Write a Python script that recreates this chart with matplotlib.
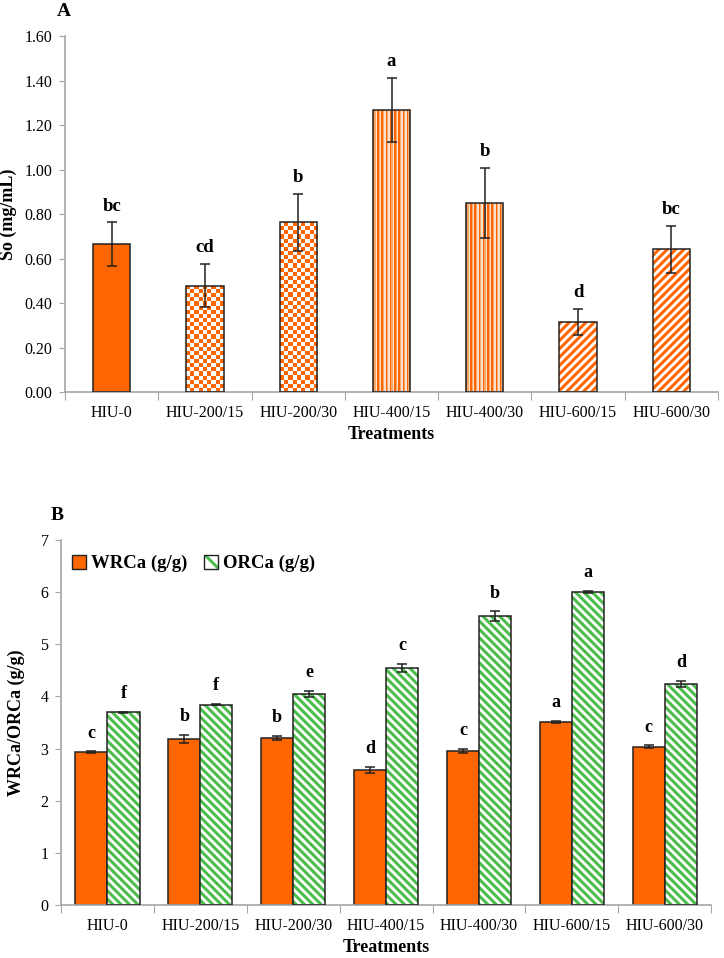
import matplotlib
matplotlib.use('Agg')
import matplotlib.pyplot as plt
import numpy as np
from matplotlib.colors import ListedColormap
from matplotlib.patches import Patch

plt.rcParams['font.family'] = ['Liberation Serif', 'DejaVu Serif']
plt.rcParams['hatch.linewidth'] = 2.2

### Data
treatments = ['HIU-0', 'HIU-200/15', 'HIU-200/30', 'HIU-400/15',
              'HIU-400/30', 'HIU-600/15', 'HIU-600/30']

# Panel A: So (mg/mL)
so_mean = [0.665, 0.478, 0.762, 1.267, 0.848, 0.316, 0.641]
so_err = [0.097, 0.097, 0.130, 0.145, 0.158, 0.059, 0.107]
so_letters = ['bc', 'cd', 'b', 'a', 'b', 'd', 'bc']
so_fill = ['solid', 'check', 'check', 'vstripe', 'vstripe', 'diag', 'diag']

# Panel B: WRCa / ORCa (g/g)
wrca = [2.93, 3.18, 3.20, 2.59, 2.96, 3.51, 3.04]
wrca_err = [0.015, 0.08, 0.04, 0.06, 0.04, 0.02, 0.02]
wrca_letters = ['c', 'b', 'b', 'd', 'c', 'a', 'c']
orca = [3.70, 3.84, 4.04, 4.55, 5.54, 6.01, 4.24]
orca_err = [0.01, 0.01, 0.06, 0.08, 0.09, 0.02, 0.06]
orca_letters = ['f', 'f', 'e', 'c', 'b', 'a', 'd']

### Styles
ORANGE = '#FF6600'
GREEN = '#4DBE4D'
GREY = '#A6A6A6'
EDGE = '#222222'
DIAG_A = '////'
DIAG_B = '\\\\\\\\'


def style_axes(ax, ymax, yticks, fmt):
    ax.set_xlim(-0.5, len(treatments) - 0.5)
    ax.set_ylim(0, ymax)
    ax.set_yticks(yticks)
    ax.set_yticklabels([fmt % v for v in yticks], fontsize=11.5)
    ax.set_xticks(np.arange(-0.5, len(treatments), 1.0))
    ax.set_xticklabels([])
    ax.set_xticks(np.arange(len(treatments)), minor=True)
    ax.set_xticklabels(treatments, minor=True, fontsize=11.5)
    ax.tick_params(axis='x', which='major', length=6, color=GREY, direction='out')
    ax.tick_params(axis='x', which='minor', length=0, pad=9)
    ax.tick_params(axis='y', length=4, color=GREY, direction='out', pad=5)
    for s in ['top', 'right']:
        ax.spines[s].set_visible(False)
    for s in ['left', 'bottom']:
        ax.spines[s].set_color(GREY)
        ax.spines[s].set_linewidth(1.2)
    ax.set_xlabel('Treatments', fontsize=13, fontweight='bold', labelpad=4)


fig = plt.figure(figsize=(7.24, 9.58), dpi=100)

### Panel A
axA = fig.add_axes([0.0898, 0.5908, 0.902, 0.3716])
x = np.arange(len(treatments))
w = 0.4
px_per_unit = 0.3716 * 9.58 * 100 / 1.6

bars = axA.bar(x, so_mean, w, color='white', edgecolor='none', zorder=2)
for b, style in zip(bars, so_fill):
    x0, y0, bw, bh = b.get_x(), b.get_y(), b.get_width(), b.get_height()
    if style == 'solid':
        b.set_facecolor(ORANGE)
    elif style == 'check':
        ncol = 9
        nrow = max(1, int(round(bh * px_per_unit / 4.1)))
        grid = np.add.outer(np.arange(nrow), np.arange(ncol)) % 2
        im = axA.imshow(grid, extent=(x0, x0 + bw, y0, y0 + bh),
                        cmap=ListedColormap(['white', ORANGE]),
                        interpolation='nearest', aspect='auto', origin='lower', zorder=2)
        im.set_clip_path(b)
    elif style == 'vstripe':
        ncol = 27
        grid = (np.arange(ncol) % 3)[None, :]
        im = axA.imshow(grid, extent=(x0, x0 + bw, y0, y0 + bh),
                        cmap=ListedColormap([ORANGE, '#F6A96B', '#FCE2CC']),
                        interpolation='nearest', aspect='auto', origin='lower', zorder=2)
        im.set_clip_path(b)
    elif style == 'diag':
        b.set_hatch(DIAG_A)
        b.set_edgecolor(ORANGE)
        b.set_linewidth(0)

axA.bar(x, so_mean, w, fill=False, edgecolor=EDGE, linewidth=1.1, zorder=3)
axA.errorbar(x, so_mean, yerr=so_err, fmt='none', ecolor=EDGE, elinewidth=1.1,
             capsize=3.5, capthick=1.1, zorder=4)
for xi, m, e, lab in zip(x, so_mean, so_err, so_letters):
    axA.annotate(lab, (xi, m + e), xytext=(0, 8.5), textcoords='offset points',
                 ha='center', va='baseline', fontsize=13.5, fontweight='bold')

style_axes(axA, 1.6, np.arange(0, 1.61, 0.2), '%.2f')
axA.set_ylabel('So (mg/mL)', fontsize=13, fontweight='bold')
axA.yaxis.set_label_coords(-0.074, 0.5)
fig.text(0.088, 0.988, 'A', fontsize=14, fontweight='bold', ha='center', va='center')

### Panel B
axB = fig.add_axes([0.0843, 0.0553, 0.898, 0.381])
wb = 0.345
axB.bar(x - wb / 2, wrca, wb, color=ORANGE, edgecolor=EDGE, linewidth=1.1, zorder=2)
axB.bar(x + wb / 2, orca, wb, color='white', edgecolor=GREEN, hatch=DIAG_B,
        linewidth=0, zorder=2)
axB.bar(x + wb / 2, orca, wb, fill=False, edgecolor=EDGE, linewidth=1.1, zorder=3)
axB.errorbar(x - wb / 2, wrca, yerr=wrca_err, fmt='none', ecolor=EDGE, elinewidth=1.1,
             capsize=3.5, capthick=1.1, zorder=4)
axB.errorbar(x + wb / 2, orca, yerr=orca_err, fmt='none', ecolor=EDGE, elinewidth=1.1,
             capsize=3.5, capthick=1.1, zorder=4)
for xi, m, e, lab in zip(x - wb / 2, wrca, wrca_err, wrca_letters):
    axB.annotate(lab, (xi, m + e), xytext=(0, 10), textcoords='offset points',
                 ha='center', va='baseline', fontsize=13, fontweight='bold')
for xi, m, e, lab in zip(x + wb / 2, orca, orca_err, orca_letters):
    axB.annotate(lab, (xi, m + e), xytext=(0, 10), textcoords='offset points',
                 ha='center', va='baseline', fontsize=13, fontweight='bold')

style_axes(axB, 7, np.arange(0, 8, 1), '%d')
axB.set_ylabel('WRCa/ORCa (g/g)', fontsize=13, fontweight='bold')
axB.yaxis.set_label_coords(-0.055, 0.5)
fig.text(0.079, 0.462, 'B', fontsize=14, fontweight='bold', ha='center', va='center')

handles = [Patch(facecolor=ORANGE, edgecolor=EDGE, linewidth=1),
           (Patch(facecolor='white', edgecolor=GREEN, hatch='\\\\', linewidth=0),
            Patch(fill=False, edgecolor=EDGE, linewidth=1))]
axB.legend(handles, ['WRCa (g/g)', 'ORCa (g/g)'], loc='upper left',
           bbox_to_anchor=(-0.006, 1.0), ncol=2, frameon=False,
           prop={'size': 13.5, 'weight': 'bold'}, handlelength=0.75, handleheight=0.75,
           handletextpad=0.25, columnspacing=0.9, borderaxespad=0.4)

plt.savefig('out.png', dpi=100)
